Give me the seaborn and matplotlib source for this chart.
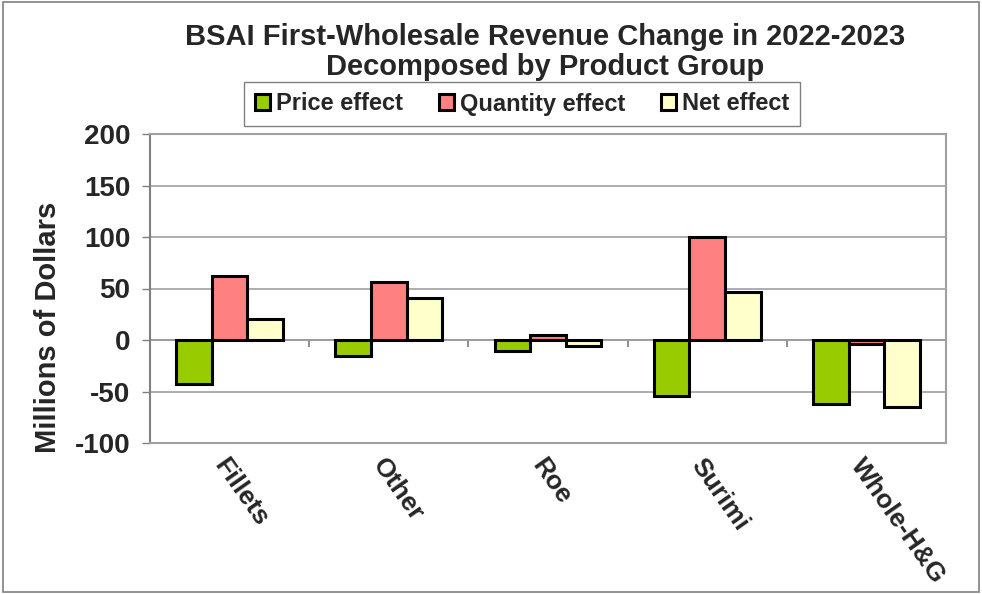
import matplotlib
matplotlib.use("Agg")
import matplotlib.pyplot as plt
import seaborn as sns
import pandas as pd
import numpy as np
from matplotlib.patches import Rectangle
from matplotlib.transforms import ScaledTranslation

categories = ["Fillets", "Other", "Roe", "Surimi", "Whole-H&G"]
series = ["Price effect", "Quantity effect", "Net effect"]
price_effect = [-43, -15.5, -11, -54, -62.5]
quantity_effect = [62.5, 56, 5, 100, -3.5]
net_effect = [20, 41, -5.5, 46.5, -65.5]
colors = ["#99CC00", "#FF8080", "#FFFFCC"]
yticks = [-100, -50, 0, 50, 100, 150, 200]

df = pd.DataFrame({
    "Category": categories * 3,
    "Effect": [s for s in series for _ in categories],
    "Value": price_effect + quantity_effect + net_effect,
})

sns.set_theme(style="white")
plt.rcParams["font.family"] = ["Liberation Sans", "DejaVu Sans"]

fig = plt.figure(figsize=(9.82, 5.94), dpi=100)
ax = fig.add_axes([150/982, 1-443/594, (946-150)/982, (443-134)/594])

sns.barplot(data=df, x="Category", y="Value", hue="Effect", order=categories,
            hue_order=series, palette=colors, width=0.67, gap=0,
            edgecolor="black", linewidth=2.2, saturation=1, ax=ax, legend=True)

ax.set_ylim(-100, 200)
ax.set_xlim(-0.5, len(categories) - 0.5)
ax.set_yticks(yticks)
ax.set_yticklabels([str(v) for v in yticks], fontsize=20, fontweight="bold")
ax.yaxis.grid(True, color="#A0A0A0", linewidth=1.2)
ax.set_axisbelow(True)
ax.tick_params(axis="y", direction="out", length=6, color="#808080", width=1, left=True, pad=8)
ax.tick_params(axis="x", length=0, pad=8)
ax.set_xlabel("")
ax.set_ylabel("Millions of Dollars", fontsize=21, fontweight="bold")
ax.yaxis.set_label_coords(-0.11, 0.375)
for lbl in ax.get_xticklabels():
    lbl.set_rotation(-55)
    lbl.set_ha("left")
    lbl.set_va("top")
    lbl.set_rotation_mode("anchor")
    lbl.set_fontsize(19)
    lbl.set_fontweight("bold")
for lbl in ax.get_xticklabels():
    lbl.set_transform(lbl.get_transform() + ScaledTranslation(-1/100, 0, fig.dpi_scale_trans))

for side in ["left", "right", "top", "bottom"]:
    ax.spines[side].set_visible(True)
    ax.spines[side].set_color("#A0A0A0")
    ax.spines[side].set_linewidth(1.5)
ax.spines["left"].set_color("#808080")

# zero-line ticks at category boundaries
sec = ax.secondary_xaxis(1/3)
sec.set_xticks(np.arange(0.5, len(categories), 1.0))
sec.tick_params(axis="x", direction="out", length=5, color="#808080", labelbottom=False, labeltop=False, bottom=True, top=False)
sec.spines["bottom"].set_color("#808080")
sec.spines["bottom"].set_linewidth(1.2)
sec.spines["top"].set_visible(False)

# legend
handles, labels = ax.get_legend_handles_labels()
ax.legend_.remove()
leg = fig.legend(handles, labels, loc="center", bbox_to_anchor=(522/982, 1-104/594), ncol=3,
                 frameon=True, fancybox=False, edgecolor="#606060",
                 prop={"size": 17, "weight": "bold"}, handlelength=0.65, handleheight=0.65,
                 handletextpad=0.25, columnspacing=1.5, borderpad=0.45, borderaxespad=0)
leg.get_frame().set_linewidth(1.0)

fig.text(545/982, 1-52/594, "BSAI First-Wholesale Revenue Change in 2022-2023\nDecomposed by Product Group",
         ha="center", va="center", fontsize=21, fontweight="bold", linespacing=1.12)

fig.add_artist(Rectangle((0.003, 0.003), 0.994, 0.994, transform=fig.transFigure,
                         fill=False, edgecolor="#808080", linewidth=1.2))

fig.savefig("out.png", dpi=100)
